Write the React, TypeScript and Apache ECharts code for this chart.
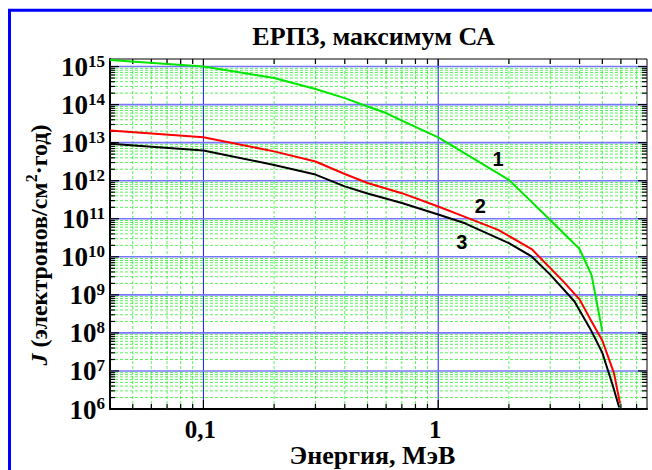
import React, { useEffect, useRef } from 'react';
import * as echarts from 'echarts';

// ---- data (energy in MeV, flux J in electrons / cm^2 / year) ----
const energy1 = [0.04, 0.1, 0.2, 0.3, 0.4, 0.5, 0.6, 0.7, 1, 2, 3, 4, 4.5, 5];
const flux1 = [1.48e15, 1.0e15, 5.0e14, 2.57e14, 1.48e14, 8.9e13, 6.0e13, 3.8e13, 1.38e13, 1.05e12, 9.3e10, 1.6e10, 3.3e9, 1.1e8];

const energy2 = [0.04, 0.1, 0.2, 0.3, 0.4, 0.5, 0.7, 1, 1.3, 1.8, 2.5, 3.4, 4, 4.5, 5, 5.6, 5.95];
const flux2 = [2.1e13, 1.38e13, 5.9e12, 3.2e12, 1.5e12, 8.7e11, 4.7e11, 2.1e11, 1.12e11, 5.1e10, 1.6e10, 2.3e9, 7.6e8, 2.0e8, 6.3e7, 8.9e6, 1.4e6];

const energy3 = [0.04, 0.1, 0.2, 0.3, 0.4, 0.5, 0.7, 1, 1.3, 2, 2.5, 3, 3.8, 4.5, 5, 5.5, 5.9];
const flux3 = [9.3e12, 6.2e12, 2.6e12, 1.45e12, 7.1e11, 4.6e11, 2.6e11, 1.29e11, 7.6e10, 2.3e10, 1.02e10, 3.4e9, 6.8e8, 1.1e8, 3.0e7, 4.8e6, 1.1e6];

const curveLabelText = ['1', '2', '3'];
const curveLabelE = [1.8, 1.51, 1.26];
const curveLabelJ = [3.7e12, 2.2e11, 2.5e10];

const xLabelValues = [0.1, 1];
const xLabelTexts = ['0,1', '1'];
const yDecadeExponents = [6, 7, 8, 9, 10, 11, 12, 13, 14, 15];

const X_MIN = 0.04;
const X_MAX = 7.75;
const Y_MIN = 1e6;
const Y_MAX = 1.58e15;

const titleText = 'ЕРПЗ, максимум СА';
const xNameText = 'Энергия, МэВ';

const lg = (v: number) => Math.log10(v);
const SERIF = 'Liberation Serif';
const SANS = 'Liberation Sans';

export default function App() {
  const ref = useRef<HTMLDivElement>(null);

  useEffect(() => {
    const chart = echarts.init(ref.current!, null, { renderer: 'svg' });

    const XL = lg(X_MIN), XH = lg(X_MAX), YL = lg(Y_MIN), YH = lg(Y_MAX);

    // grid lines: [orient (0 vertical / 1 horizontal), log value, major flag]
    const gridData: number[][] = [];
    [0.01, 0.1, 1].forEach((d) => {
      for (let k = 1; k <= 9; k++) {
        const v = k * d;
        if (v > X_MIN * 1.001 && v < X_MAX) gridData.push([0, lg(v), k === 1 ? 1 : 0]);
      }
    });
    yDecadeExponents.forEach((n) => {
      for (let k = 1; k <= 9; k++) {
        const v = k * Math.pow(10, n);
        if (v > Y_MIN * 1.001 && v < Y_MAX) gridData.push([1, lg(v), k === 1 ? 1 : 0]);
      }
    });

    const renderGrid = (_params: any, api: any) => {
      const o = api.value(0);
      const v = api.value(1);
      const major = api.value(2) === 1;
      let a: number[], b: number[];
      if (o === 0) {
        a = api.coord([v, YL]);
        b = api.coord([v, YH]);
      } else {
        a = api.coord([XL, v]);
        b = api.coord([XH, v]);
      }
      const lineStyle = major
        ? o === 0
          ? { stroke: '#1a1aff', lineWidth: 1 }
          : { stroke: '#7878ff', lineWidth: 1.6 }
        : { stroke: '#33ee33', lineWidth: 0.8, lineDash: [3, 2] };
      const L = major ? 9 : 5;
      const tick = { stroke: '#000', lineWidth: 1.2 };
      const children: any[] = [
        { type: 'line', shape: { x1: a[0], y1: a[1], x2: b[0], y2: b[1] }, style: lineStyle },
      ];
      if (o === 0) {
        children.push({ type: 'line', shape: { x1: a[0], y1: a[1], x2: a[0], y2: a[1] - L }, style: tick });
        children.push({ type: 'line', shape: { x1: b[0], y1: b[1], x2: b[0], y2: b[1] + L }, style: tick });
      } else {
        children.push({ type: 'line', shape: { x1: a[0], y1: a[1], x2: a[0] + L, y2: a[1] }, style: tick });
        children.push({ type: 'line', shape: { x1: b[0], y1: b[1], x2: b[0] - L, y2: b[1] }, style: tick });
      }
      return { type: 'group', children };
    };

    const toPts = (e: number[], f: number[]) => e.map((x, i) => [lg(x), lg(f[i])]);

    const option: any = {
      animation: false,
      backgroundColor: '#ffffff',
      textStyle: { fontFamily: SERIF },
      grid: {
        left: 110,
        top: 59,
        width: 537,
        height: 350,
        show: true,
        borderColor: '#000',
        borderWidth: 1,
        backgroundColor: 'transparent',
      },
      xAxis: {
        type: 'value',
        min: XL,
        max: XH,
        axisLine: { show: true, onZero: false, lineStyle: { color: '#000', width: 2 } },
        axisTick: { show: false },
        splitLine: { show: false },
        axisLabel: {
          customValues: xLabelValues.map(lg),
          formatter: (v: number) => {
            const i = xLabelValues.findIndex((x) => Math.abs(lg(x) - v) < 1e-6);
            return i >= 0 ? xLabelTexts[i] : '';
          },
          color: '#000',
          fontFamily: SERIF,
          fontWeight: 'bold',
          fontSize: 25,
          lineHeight: 21,
          margin: 10,
          padding: [0, 6, 0, 0],
        },
      },
      yAxis: {
        type: 'value',
        min: YL,
        max: YH,
        interval: 1,
        axisLine: { show: true, onZero: false, lineStyle: { color: '#000', width: 2 } },
        axisTick: { show: false },
        splitLine: { show: false },
        axisLabel: {
          formatter: (v: number) => {
            const r = Math.round(v);
            return Math.abs(v - r) < 1e-6 && yDecadeExponents.includes(r) ? `{b|10}{s|${r}}` : '';
          },
          margin: 5,
          rich: {
            b: { fontSize: 27, fontWeight: 'bold', fontFamily: SERIF, color: '#000', lineHeight: 28, verticalAlign: 'bottom' },
            s: { fontSize: 17, fontWeight: 'bold', fontFamily: SERIF, color: '#000', lineHeight: 12, verticalAlign: 'top' },
          },
        },
      },
      graphic: [
        {
          type: 'rect',
          silent: true,
          shape: { x: 9.5, y: 10.3, width: 700, height: 520 },
          style: { fill: 'none', stroke: '#0000ff', lineWidth: 3 },
        },
        {
          type: 'text',
          silent: true,
          x: 373.5,
          y: 36.5,
          style: {
            text: titleText,
            fontFamily: SERIF,
            fontWeight: 'bold',
            fontSize: 26,
            fill: '#000',
            align: 'center',
            verticalAlign: 'middle',
          },
        },
        {
          type: 'text',
          silent: true,
          x: 372.5,
          y: 455.5,
          style: {
            text: xNameText,
            fontFamily: SERIF,
            fontWeight: 'bold',
            fontSize: 26,
            lineHeight: 24,
            fill: '#000',
            align: 'center',
            verticalAlign: 'middle',
          },
        },
        {
          type: 'text',
          silent: true,
          x: 37,
          y: 245,
          rotation: Math.PI / 2,
          style: {
            text: '{i|J} {n|(электронов/см}{sup|2}{n|·год)}',
            fontFamily: SERIF,
            fontWeight: 'bold',
            fontSize: 24,
            fill: '#000',
            align: 'center',
            verticalAlign: 'middle',
            rich: {
              i: { fontSize: 24, fontWeight: 'bold', fontStyle: 'italic', fontFamily: SERIF, fill: '#000', lineHeight: 27, verticalAlign: 'bottom' },
              n: { fontSize: 24, fontWeight: 'bold', fontFamily: SERIF, fill: '#000', lineHeight: 27, verticalAlign: 'bottom' },
              sup: { fontSize: 16, fontWeight: 'bold', fontFamily: SERIF, fill: '#000', lineHeight: 10, verticalAlign: 'top' },
            },
          },
        },
      ],
      series: [
        {
          type: 'custom',
          name: 'grid',
          silent: true,
          z: 1,
          renderItem: renderGrid,
          data: gridData,
        },
        {
          type: 'line',
          name: '1',
          z: 3,
          data: toPts(energy1, flux1),
          showSymbol: false,
          symbol: 'none',
          lineStyle: { color: '#00e600', width: 2 },
        },
        {
          type: 'line',
          name: '2',
          z: 3,
          data: toPts(energy2, flux2),
          showSymbol: false,
          symbol: 'none',
          lineStyle: { color: '#ff0000', width: 2 },
        },
        {
          type: 'line',
          name: '3',
          z: 4,
          data: toPts(energy3, flux3),
          showSymbol: false,
          symbol: 'none',
          lineStyle: { color: '#000000', width: 2 },
        },
        {
          type: 'scatter',
          name: 'labels',
          z: 5,
          silent: true,
          symbolSize: 0,
          itemStyle: { color: 'transparent' },
          data: curveLabelText.map((t, i) => [lg(curveLabelE[i]), lg(curveLabelJ[i]), t]),
          label: {
            show: true,
            position: 'inside',
            formatter: (p: any) => p.value[2],
            color: '#000',
            opacity: 1,
            fontFamily: SANS,
            fontWeight: 'bold',
            fontSize: 20,
          },
        },
      ],
    };

    chart.setOption(option);
    return () => chart.dispose();
  }, []);

  return (
    <div
      ref={ref}
      style={{ position: 'absolute', left: 0, top: 0, width: 652, height: 470, background: '#fff' }}
    />
  );
}
